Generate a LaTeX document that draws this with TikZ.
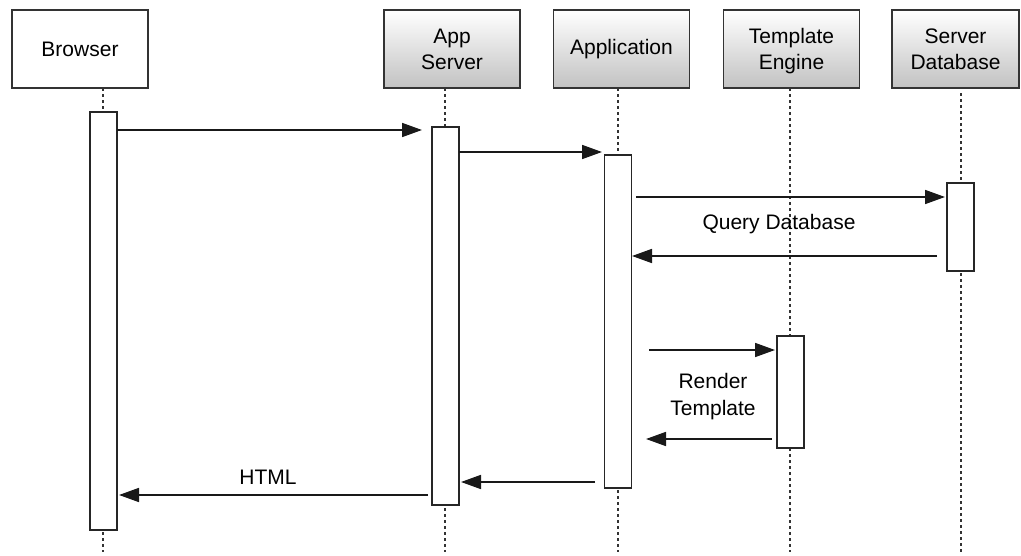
\documentclass[tikz,border=0pt]{standalone}
\usepackage{fontspec}
\setmainfont{Liberation Sans}
\usetikzlibrary{arrows.meta}
\begin{document}
\begin{tikzpicture}[x=1pt,y=-1pt,
  actor/.style={draw=black!80, line width=1.7pt, minimum width=136pt, minimum height=78pt, align=center, inner sep=0pt, font=\fontsize{21}{26}\selectfont},
  shadedactor/.style={actor, top color=white, bottom color=black!24},
  bar/.style={draw=black!85, line width=1.7pt, fill=white, minimum width=27pt, inner sep=0pt},
  life/.style={line width=1.6pt, dash pattern=on 3pt off 3pt, draw=black!80},
  msg/.style={line width=1.7pt, draw=black!90, -{Triangle[length=20pt,width=14pt]}},
  lbl/.style={font=\fontsize{21}{27}\selectfont, align=center, inner sep=0pt}]
\useasboundingbox (0,0) rectangle (1021,555);
% actors
\node[actor, fill=white] (browser) at (80,49) {Browser};
\node[shadedactor] (appserver) at (452,49) {App\\Server};
\node[shadedactor] (app) at (621.5,49) {Application};
\node[shadedactor] (tmpl) at (791.5,49) {Template\\\smash{Engine}};
\node[shadedactor, minimum width=127pt] (db) at (955.5,49) {Server\\Database};
% lifelines
\coordinate (lbT) at (103,88);   \coordinate (lbB) at (103,552);
\coordinate (laT) at (445,88);   \coordinate (laB) at (445,552);
\coordinate (lpT) at (618,88);   \coordinate (lpB) at (618,552);
\coordinate (ltT) at (790,88);   \coordinate (ltB) at (790,552);
\coordinate (ldT) at (961,93);   \coordinate (ldB) at (961,552);
\draw[life] (lbT) -- (lbB);
\draw[life] (laT) -- (laB);
\draw[life] (lpT) -- (lpB);
\draw[life] (ltT) -- (ltB);
\draw[life] (ldT) -- (ldB);
% activation bars
\node[bar, minimum height=418pt] (bBar) at (103.5,321) {};
\node[bar, minimum height=378pt] (aBar) at (445.5,316) {};
\node[bar, minimum height=333pt] (pBar) at (618,321.5) {};
\node[bar, minimum height=112pt] (tBar) at (790.5,392) {};
\node[bar, minimum height=88pt] (dBar) at (960.5,227) {};
% message end points
\coordinate (m1s) at (117,130); \coordinate (m1e) at (422,130);
\coordinate (m2s) at (459,152); \coordinate (m2e) at (602,152);
\coordinate (m3s) at (636,197); \coordinate (m3e) at (945,197);
\coordinate (m4s) at (937,256); \coordinate (m4e) at (632,256);
\coordinate (m5s) at (649,350); \coordinate (m5e) at (775,350);
\coordinate (m6s) at (772,439); \coordinate (m6e) at (646,439);
\coordinate (m7s) at (595,482); \coordinate (m7e) at (461,482);
\coordinate (m8s) at (428,495); \coordinate (m8e) at (119,495);
\draw[msg] (m1s) -- (m1e);
\draw[msg] (m2s) -- (m2e);
\draw[msg] (m3s) -- (m3e);
\draw[msg] (m4s) -- (m4e);
\draw[msg] (m5s) -- (m5e);
\draw[msg] (m6s) -- (m6e);
\draw[msg] (m7s) -- (m7e);
\draw[msg] (m8s) -- (m8e);
% labels
\node[lbl] (qlbl) at (779,224) {Query Database};
\node[lbl] (rlbl) at (713,397) {Render\\Template};
\node[lbl] (hlbl) at (268,477) {HTML};
\end{tikzpicture}
\end{document}
